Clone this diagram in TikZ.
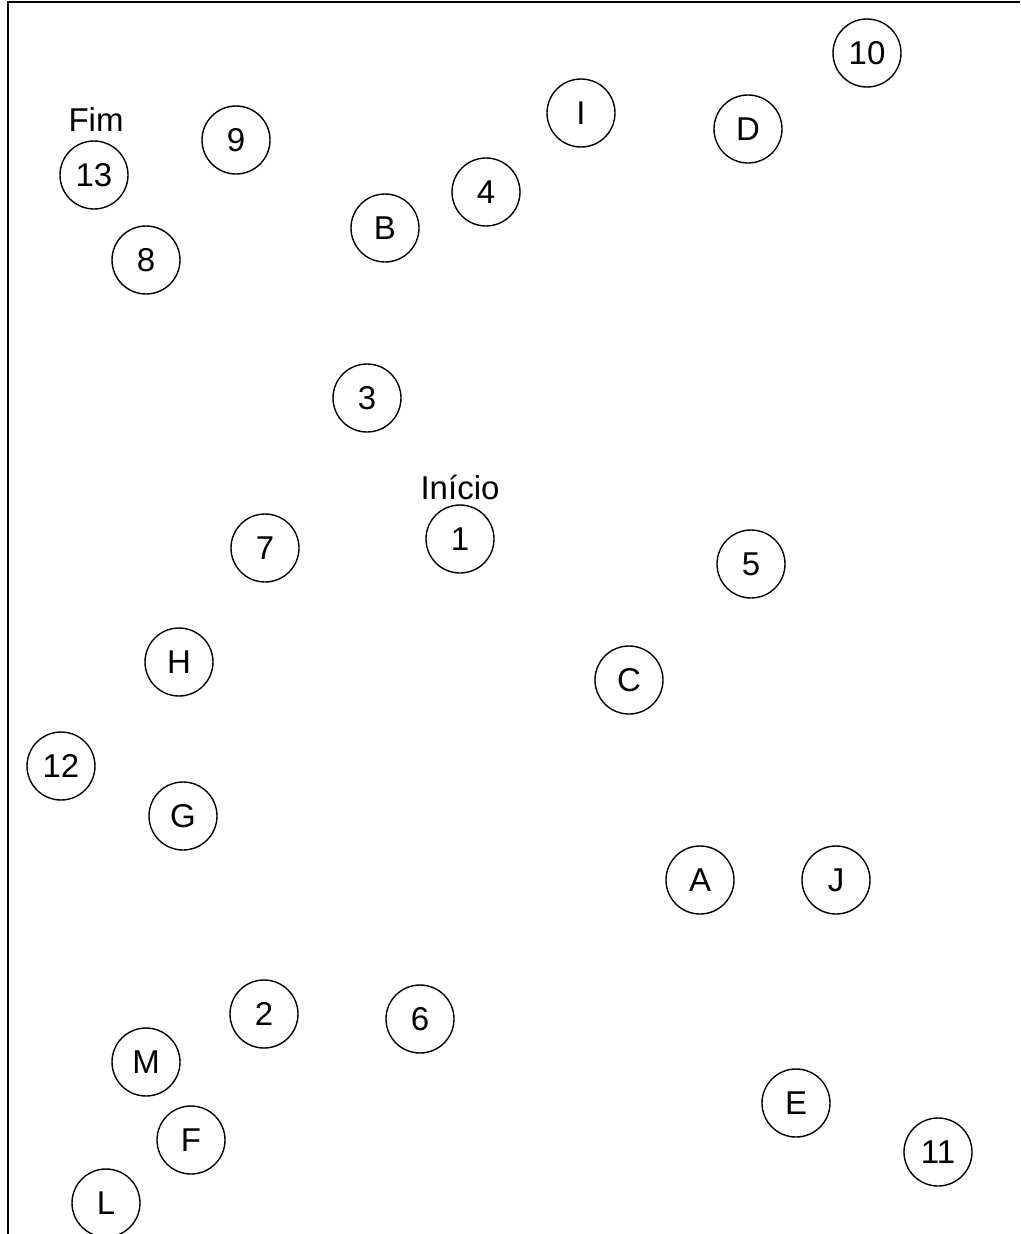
\documentclass[tikz,border=0pt]{standalone}
\usepackage{fontspec}
\setmainfont{Liberation Sans}
\begin{document}
\begin{tikzpicture}[x=1pt,y=-1pt,
  st/.style={draw, circle, line width=1.4pt, minimum size=68pt, inner sep=0pt, font=\fontsize{33}{33}\selectfont},
  lbl/.style={font=\fontsize{33}{33}\selectfont, inner sep=0pt}]
\useasboundingbox (0,0) rectangle (1020,1234);
\draw[line width=2pt] (8,1234) -- (8,2) -- (1020,2);
\node[st] (n10) at (867,53) {10};
\node[st] (nI) at (581,113) {I};
\node[st] (nD) at (748,129) {D};
\node[st] (n13) at (94,175) {13};
\node[lbl] (fim) at (96,120) {Fim};
\node[st] (n9) at (236,140) {9};
\node[st] (n4) at (486,192) {4};
\node[st] (nB) at (385,228) {B};
\node[st] (n8) at (146,260) {8};
\node[st] (n3) at (367,398) {3};
\node[st] (n1) at (460,539) {1};
\node[lbl] (ini) at (460,488) {Início};
\node[st] (n7) at (265,548) {7};
\node[st] (n5) at (751,564) {5};
\node[st] (nH) at (179,662) {H};
\node[st] (nC) at (629,680) {C};
\node[st] (n12) at (61,766) {12};
\node[st] (nG) at (183,816) {G};
\node[st] (nA) at (700,880) {A};
\node[st] (nJ) at (836,880) {J};
\node[st] (n2) at (264,1014) {2};
\node[st] (n6) at (420,1019) {6};
\node[st] (nM) at (146,1062) {M};
\node[st] (nE) at (796,1103) {E};
\node[st] (nF) at (191,1140) {F};
\node[st] (n11) at (938,1152) {11};
\node[st] (nL) at (106,1203) {L};
\end{tikzpicture}
\end{document}
